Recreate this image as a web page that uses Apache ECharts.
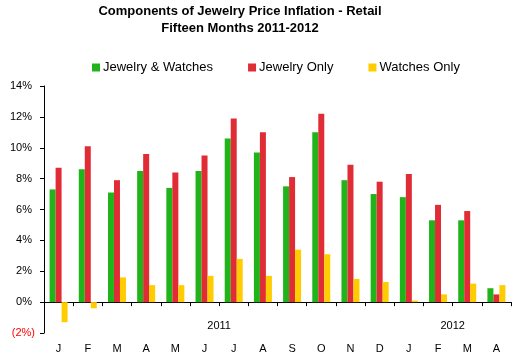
<!DOCTYPE html>
<html>
<head>
<meta charset="utf-8">
<script src="https://cdn.jsdelivr.net/npm/echarts@6/dist/echarts.min.js"></script>
<style>html,body{margin:0;padding:0;background:#fff;}#c{width:519px;height:361px;}</style>
</head>
<body>
<div id="c"></div>
<script>
var months = ['J','F','M','A','M','J','J','A','S','O','N','D','J','F','M','A'];
var jewelryWatches = [7.3, 8.6, 7.1, 8.5, 7.4, 8.5, 10.6, 9.7, 7.5, 11.0, 7.9, 7.0, 6.8, 5.3, 5.3, 0.9];
var jewelryOnly    = [8.7, 10.1, 7.9, 9.6, 8.4, 9.5, 11.9, 11.0, 8.1, 12.2, 8.9, 7.8, 8.3, 6.3, 5.9, 0.5];
var watchesOnly    = [-1.3, -0.4, 1.6, 1.1, 1.1, 1.7, 2.8, 1.7, 3.4, 3.1, 1.5, 1.3, 0.1, 0.5, 1.2, 1.1];
var yearLabels = {6: '2011', 14: '2012'};
var seriesNames = ['Jewelry & Watches', 'Jewelry Only', 'Watches Only'];
var colors = ['#20B41A', '#E02D35', '#FFCC00'];

var font = 'Liberation Sans, Arial, sans-serif';
var chart = echarts.init(document.getElementById('c'));
function bar(name, data, color) {
  return {name: name, type: 'bar', data: data, barWidth: 6, barGap: '0%',
          itemStyle: {color: color}, xAxisIndex: 0};
}
chart.setOption({
  animation: false,
  color: colors,
  title: {
    text: 'Components of Jewelry Price Inflation - Retail\nFifteen Months 2011-2012',
    left: 235, textAlign: 'center', top: -2,
    textStyle: {fontFamily: font, fontSize: 13, fontWeight: 'bold', color: '#000', lineHeight: 17}
  },
  legend: {
    data: seriesNames, top: 56, left: 87, itemWidth: 8, itemHeight: 8, itemGap: 35,
    icon: 'rect',
    textStyle: {fontFamily: font, fontSize: 13, color: '#000', padding: [0, 0, 0, -2]}
  },
  grid: {left: 44, right: 8, top: 86, bottom: 28, containLabel: false, outerBoundsMode: 'none'},
  xAxis: [{
    type: 'category', data: months,
    axisLine: {onZero: true, lineStyle: {color: '#000'}},
    axisTick: {show: true, length: 4, lineStyle: {color: '#000'}},
    axisLabel: {show: false}
  }, {
    type: 'value', min: 0, max: 16, interval: 1, position: 'bottom',
    axisLine: {show: false, onZero: false}, axisTick: {show: false}, splitLine: {show: false},
    axisLabel: {inside: true, margin: 2, fontFamily: font, fontSize: 11, color: '#000',
      formatter: function (v) { return yearLabels[v] || ''; }}
  }, {
    type: 'category', data: months, position: 'bottom',
    axisLine: {show: false, onZero: false}, axisTick: {show: false}, splitLine: {show: false},
    axisLabel: {margin: 10, fontFamily: font, fontSize: 11, color: '#000', interval: 0}
  }],
  yAxis: {
    type: 'value', min: -2, max: 14, interval: 2,
    axisLine: {show: true, onZero: false, lineStyle: {color: '#000'}},
    axisTick: {show: true, length: 4, lineStyle: {color: '#000'}},
    splitLine: {show: false},
    axisLabel: {
      margin: 9, fontFamily: font, fontSize: 11, color: '#000',
      formatter: function (v) { return v < 0 ? '{neg|(' + (-v) + '%)}' : '{pos|' + v + '%}'; },
      rich: {
        neg: {color: '#FF0000', fontFamily: font, fontSize: 11},
        pos: {color: '#000', fontFamily: font, fontSize: 11, padding: [0, 3, 0, 0]}
      }
    }
  },
  series: [
    bar(seriesNames[0], jewelryWatches, colors[0]),
    bar(seriesNames[1], jewelryOnly, colors[1]),
    bar(seriesNames[2], watchesOnly, colors[2])
  ]
});
</script>
</body>
</html>
